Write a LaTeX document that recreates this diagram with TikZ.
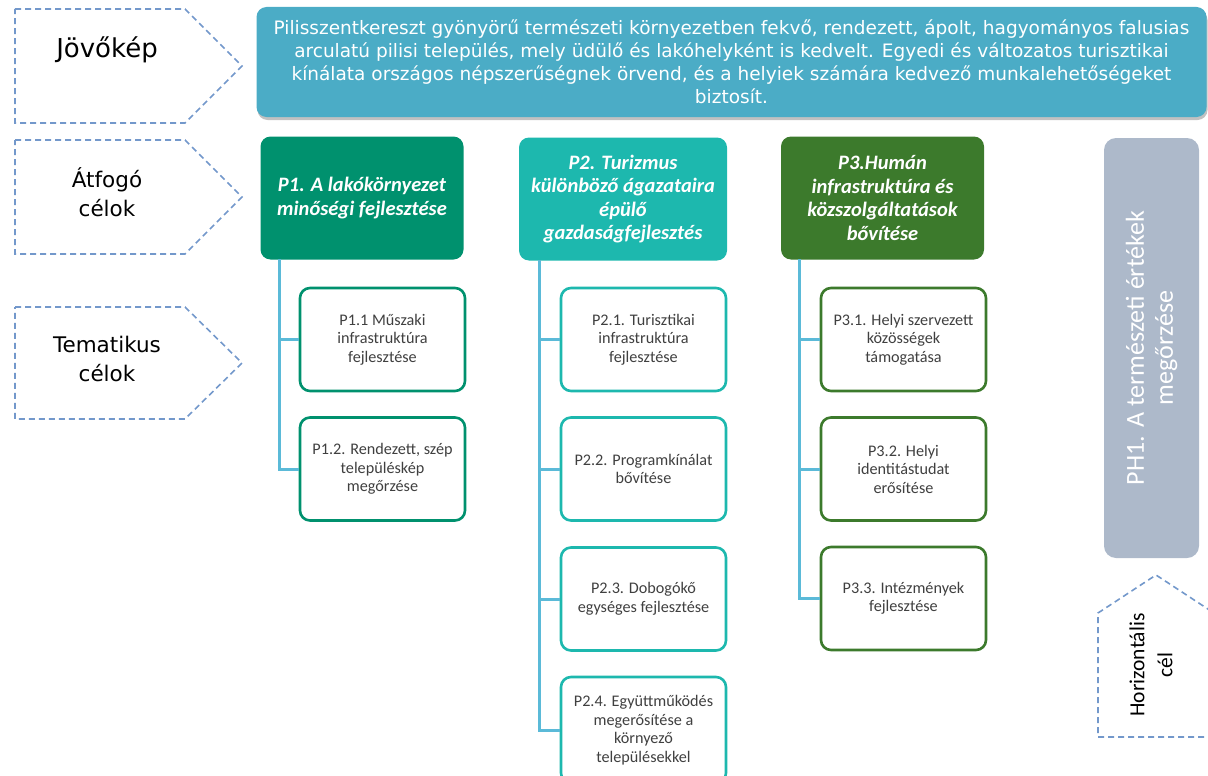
\documentclass[tikz,border=0pt]{standalone}
\usepackage{fontspec}
\setmainfont{Carlito}
\newfontfamily\tah{DejaVu Sans}
\usetikzlibrary{shadows}
\definecolor{bannerc}{HTML}{4BACC6}
\definecolor{pone}{HTML}{00916E}
\definecolor{ptwo}{HTML}{1DB8AE}
\definecolor{pthree}{HTML}{3C7A2C}
\definecolor{linec}{HTML}{5BBAD8}
\definecolor{dashc}{HTML}{7398CB}
\definecolor{greyc}{HTML}{ADB9CA}
\definecolor{txtc}{HTML}{404040}
\begin{document}
\begin{tikzpicture}[x=1pt,y=-1pt,
 labshape/.style={draw=dashc, line width=1.6pt, dash pattern=on 6pt off 4pt},
 labtext/.style={font=\tah\fontsize{21.5}{29}\selectfont, align=center, inner sep=0pt},
 topbox/.style={rounded corners=10pt, fill=#1, draw=none, text=white, font=\fontsize{20.5}{23.5}\selectfont\bfseries\itshape, align=center, minimum width=203pt, minimum height=123pt, inner sep=0pt},
 childbox/.style={rounded corners=10pt, draw=#1, line width=2.6pt, fill=white, text=txtc, font=\fontsize{16.2}{18.5}\selectfont, align=center, minimum width=165pt, minimum height=103pt, inner sep=0pt},
 conn/.style={draw=linec, line width=3pt},
]
\useasboundingbox (0,0) rectangle (1208,776);

% left labels
\draw[labshape] (15,9) -- (185,9) -- (242,66) -- (185,123) -- (15,123) -- cycle;
\node[labtext, font=\tah\fontsize{26}{29}\selectfont] (ljov) at (107,50) {Jövőkép};
\draw[labshape] (15,140) -- (185,140) -- (242,197) -- (185,254) -- (15,254) -- cycle;
\node[labtext] (latf) at (107,192) {Átfogó\\célok};
\draw[labshape] (15,307) -- (185,307) -- (242,363) -- (185,419) -- (15,419) -- cycle;
\node[labtext] (ltem) at (107,359) {Tematikus\\célok};

% banner
\node[rounded corners=10pt, fill=bannerc, minimum width=950pt, minimum height=110pt,
  drop shadow={shadow xshift=1pt, shadow yshift=-3pt, fill=black!35, opacity=0.7},
  text=white, align=center, inner sep=0pt,
  font=\tah\fontsize{18.5}{23}\selectfont] (banner) at (731.5,62)
 {Pilisszentkereszt gyönyörű természeti környezetben fekvő, rendezett, ápolt, hagyományos falusias\\
  arculatú pilisi település, mely üdülő és lakóhelyként is kedvelt. Egyedi és változatos turisztikai\\
  kínálata országos népszerűségnek örvend, és a helyiek számára kedvező munkalehetőségeket\\
  biztosít.};

% top boxes
\node[topbox=pone] (p1) at (362,198) {P1. A lakókörnyezet\\minőségi fejlesztése};
\node[topbox=ptwo, minimum width=208pt] (p2) at (623,199) {P2. Turizmus\\különböző ágazataira\\épülő\\gazdaságfejlesztés};
\node[topbox=pthree] (p3) at (882.5,198) {P3.Humán\\infrastruktúra és\\közszolgáltatások\\bővítése};

% children
\node[childbox=pone] (p11) at (382.5,339.5) {P1.1 Műszaki\\infrastruktúra\\fejlesztése};
\node[childbox=pone] (p12) at (382.5,469) {P1.2. Rendezett, szép\\településkép\\megőrzése};

\node[childbox=ptwo] (p21) at (643.5,339.5) {P2.1. Turisztikai\\infrastruktúra\\fejlesztése};
\node[childbox=ptwo] (p22) at (643.5,469) {P2.2. Programkínálat\\bővítése};
\node[childbox=ptwo] (p23) at (643.5,599) {P2.3. Dobogókő\\egységes fejlesztése};
\node[childbox=ptwo, minimum height=106pt] (p24) at (643.5,730) {P2.4. Együttműködés\\megerősítése a\\környező\\településekkel};

\node[childbox=pthree] (p31) at (903.5,339.5) {P3.1. Helyi szervezett\\közösségek\\támogatása};
\node[childbox=pthree] (p32) at (903.5,469) {P3.2. Helyi\\identitástudat\\erősítése};
\node[childbox=pthree] (p33) at (903.5,598.5) {P3.3. Intézmények\\fejlesztése};

% connectors
\coordinate (t1) at (279,259);
\coordinate (t2) at (539,260);
\coordinate (t3) at (799,259);
\draw[conn] (t1) |- (p12.west);
\draw[conn] (t1 |- p11.west) -- (p11.west);
\draw[conn] (t2) |- (p24.west);
\draw[conn] (t2 |- p21.west) -- (p21.west);
\draw[conn] (t2 |- p22.west) -- (p22.west);
\draw[conn] (t2 |- p23.west) -- (p23.west);
\draw[conn] (t3) |- (p33.west);
\draw[conn] (t3 |- p31.west) -- (p31.west);
\draw[conn] (t3 |- p32.west) -- (p32.west);

% horizontal goal
\node[rounded corners=12pt, fill=greyc, rotate=90, minimum width=420pt, minimum height=95pt,
  text=white, align=center, inner sep=0pt, font=\fontsize{26}{29}\selectfont] (ph1) at (1151.5,348)
 {PH1. A természeti értékek\\megőrzése};
\draw[labshape] (1214,737) -- (1098,737) -- (1098,613) -- (1156,575) -- (1214,613);
\node[rotate=90, align=center, inner sep=0pt, font=\fontsize{21.5}{28}\selectfont] (hor) at (1151,665)
 {Horizontális\\cél};
\end{tikzpicture}
\end{document}
